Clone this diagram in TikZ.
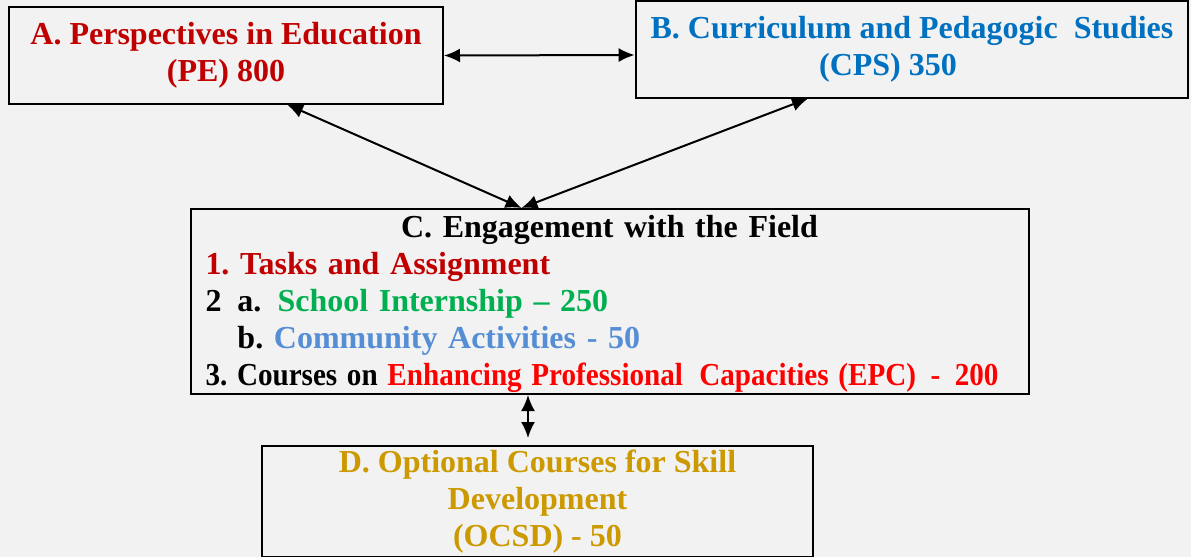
\documentclass[tikz,border=0pt]{standalone}
\usepackage{fontspec}
\setmainfont{Liberation Serif}
\usepackage{tikz}
\usetikzlibrary{arrows.meta,positioning}

\definecolor{bgray}{HTML}{F2F2F2}
\definecolor{pered}{HTML}{C00000}
\definecolor{cpsblue}{HTML}{0070C0}
\definecolor{sigreen}{HTML}{00B050}
\definecolor{caBlue}{HTML}{558ED5}
\definecolor{epcred}{HTML}{FF0000}
\definecolor{ocgold}{HTML}{CC9900}

\tikzset{
  box/.style={draw, line width=1pt, rectangle, inner sep=7.5pt,
    font=\fontsize{16}{18.5}\selectfont\bfseries\frenchspacing},
  link/.style={{Latex[length=8pt,width=7pt]}-{Latex[length=8pt,width=7pt]}, line width=1pt},
}

\begin{document}
\begin{tikzpicture}[x=0.5pt, y=-0.5pt]
                \fill[bgray] (0,0) rectangle (1191,557);
                \useasboundingbox (0,0) rectangle (1191,557);

                \node[box, text=pered, align=center, minimum width=217pt, minimum height=42.5pt] (A) at (226,55.5)
                    {A. Perspectives in Education\\(PE) 800};
                \node[box, text=cpsblue, align=center, minimum width=276pt, minimum height=42.5pt] (B) at (912,49.5)
                    {B. Curriculum and Pedagogic\enspace Studies\\(CPS) 350\hspace*{24pt}};
                \node[box, align=left, text width=404pt, inner ysep=0.5pt, minimum height=92.5pt] (C) at (609.5,301.5)
                    {\makebox[\linewidth]{\rule{0pt}{14pt}C. Engagement with the Field}\\
                     {\color{pered}1. Tasks and Assignment}\\
                     2\enspace a.\enspace{\color{sigreen}School Internship – 250}\\
                     \phantom{2}\enspace b. {\color{caBlue}Community Activities - 50}\\
                     \resizebox{396.5pt}{\height}{\mbox{3. Courses on {\color{epcred}Enhancing Professional\hspace{9pt}Capacities (EPC)\enspace -\enspace 200}}}};
                \node[box, text=ocgold, align=center, inner ysep=1pt, minimum width=275.5pt, minimum height=55.5pt] (D) at (537.5,501.5)
                    {D. Optional Courses for Skill\\Development\\(OCSD) - 50};

                \path[link] (A.east) edge ([yshift=-2.75pt]B.west);
                \path[link] ([xshift=30.5pt]A.south) edge ([xshift=-44pt]C.north);
                \path[link] ([xshift=-52pt]B.south) edge ([xshift=-44pt]C.north);
                \path[link] ([xshift=-40.75pt]C.south) edge[shorten >=3.5pt] ([xshift=-4.75pt]D.north);
            \end{tikzpicture}
\end{document}
